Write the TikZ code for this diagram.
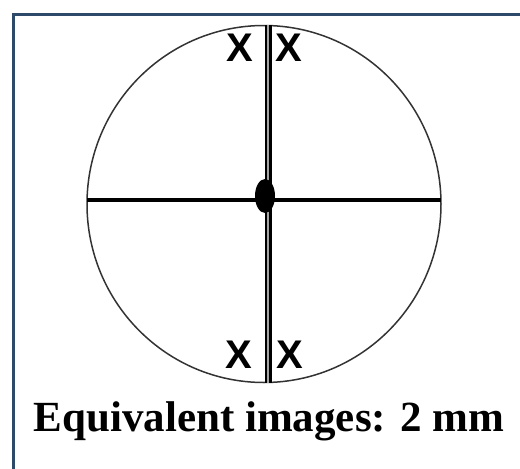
\documentclass[tikz,border=0pt]{standalone}
\usepackage{fontspec}
\setmainfont{Liberation Serif}
\newfontfamily\xfont{Liberation Sans}
\definecolor{framec}{HTML}{2E4A6B}
\begin{document}
\begin{tikzpicture}[x=1pt,y=-1pt,
  xlab/.style={font=\xfont\bfseries\fontsize{40}{40}\selectfont, inner sep=0pt, text=black},
  captext/.style={font=\bfseries\fontsize{43}{43}\selectfont, inner sep=0pt}]
\useasboundingbox (0,0) rectangle (520,469);
\draw[framec, line width=3pt] (13,469) -- (13,14) -- (520,14);
\coordinate (c) at (264,204);
\draw[line width=1.5pt, black!80] (c) ellipse [x radius=177, y radius=178.5];
\coordinate (hl) at (87,200);
\coordinate (hr) at (441,200);
\draw[line width=4pt] (hl) -- (hr);
\coordinate (vt) at (268,25);
\coordinate (vb) at (268,383);
\draw[line width=7pt] (vt) -- (vb);
\draw[line width=2.5pt, gray!70] (vt) -- (vb);
\fill (265,196) ellipse [x radius=10, y radius=17];
\node[xlab] (x1) at (240,48) {X};
\node[xlab] (x2) at (289,48) {X};
\node[xlab] (x3) at (239,355) {X};
\node[xlab] (x4) at (290,355) {X};
\node[captext] (t) at (269,421) {Equivalent images: 2 mm};
\end{tikzpicture}
\end{document}
